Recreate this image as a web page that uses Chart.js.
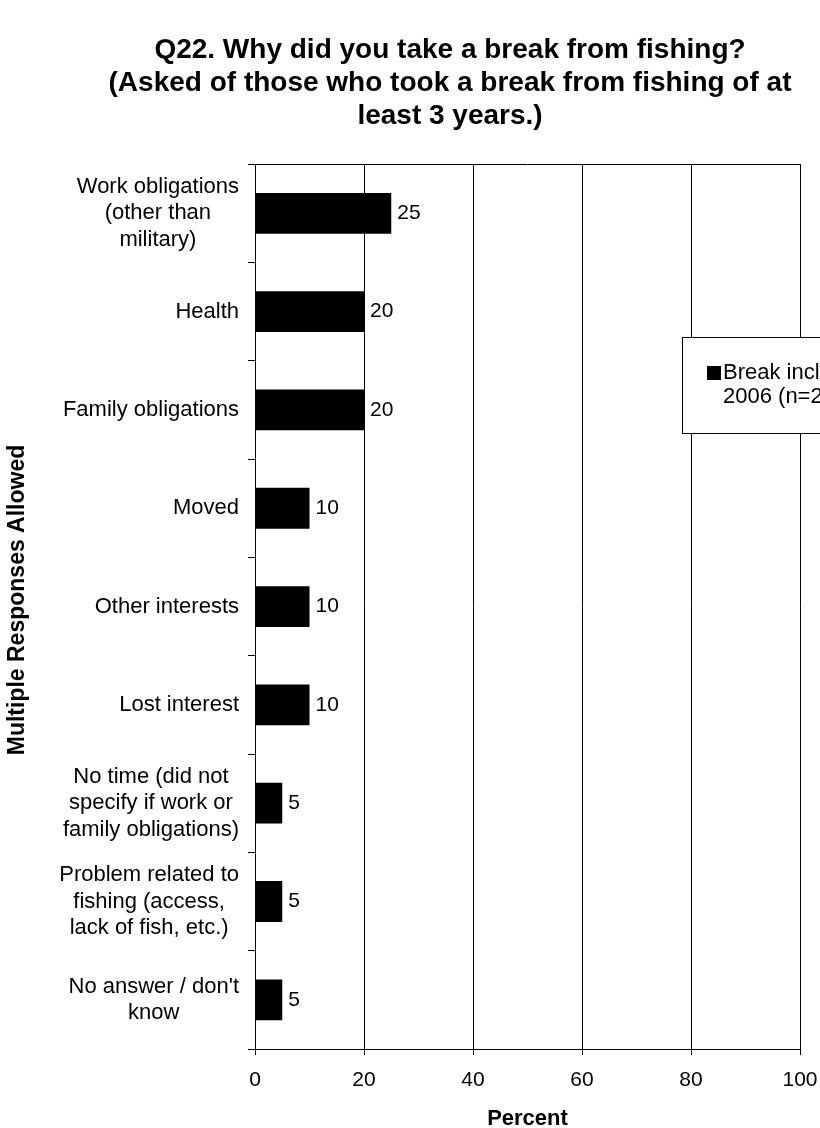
<!DOCTYPE html>
<html>
<head>
<meta charset="utf-8">
<script src="https://cdn.jsdelivr.net/npm/chart.js@4.4.1/dist/chart.umd.min.js"></script>
<style>
  html, body { margin: 0; padding: 0; background: #fff; }
</style>
</head>
<body>
<canvas id="myChart" width="820" height="1128"></canvas>
<script>
var categories = [
    ['Work obligations', '(other than', 'military)'],
    ['Health'],
    ['Family obligations'],
    ['Moved'],
    ['Other interests'],
    ['Lost interest'],
    ['No time (did not', 'specify if work or', 'family obligations)'],
    ['Problem related to', 'fishing (access,', 'lack of fish, etc.)'],
    ['No answer / don\'t', 'know']
];
var percents = [25, 20, 20, 10, 10, 10, 5, 5, 5];
var percentTicks = [0, 20, 40, 60, 80, 100];
var seriesName = ['Break including', '2006 (n=20)'];

var FONT = 'Arial, "Liberation Sans", sans-serif';
Chart.defaults.font.family = FONT;
Chart.defaults.color = '#000';

// category labels: lines centred within each block, block right-aligned to the axis
var yLabels = {
    id: 'yLabels',
    afterDraw: function(chart) {
        var ctx = chart.ctx, y = chart.scales.y;
        ctx.save();
        ctx.font = '22px ' + FONT;
        ctx.fillStyle = '#000';
        ctx.textAlign = 'center';
        ctx.textBaseline = 'middle';
        chart.data.labels.forEach(function(lines, i) {
            var w = Math.max.apply(null, lines.map(function(l) { return ctx.measureText(l).width; }));
            var cx = y.right - 16 - w / 2;
            var cy = y.getPixelForTick(i);
            lines.forEach(function(l, j) {
                ctx.fillText(l, cx, cy + (j - (lines.length - 1) / 2) * 26.5);
            });
        });
        // axis title
        ctx.font = 'bold 23px ' + FONT;
        ctx.translate(18, 600);
        ctx.rotate(-Math.PI / 2);
        ctx.fillText('Multiple Responses Allowed', 0, 0);
        ctx.restore();
    }
};

var valueLabels = {
    id: 'valueLabels',
    afterDatasetsDraw: function(chart) {
        var ctx = chart.ctx, area = chart.chartArea;
        ctx.save();
        // frame top
        ctx.strokeStyle = '#000';
        ctx.lineWidth = 1;
        ctx.beginPath();
        ctx.moveTo(area.left, Math.round(area.top) + 0.5);
        ctx.lineTo(area.right, Math.round(area.top) + 0.5);
        ctx.stroke();
        ctx.font = '21px ' + FONT;
        ctx.fillStyle = '#000';
        ctx.textAlign = 'left';
        ctx.textBaseline = 'middle';
        chart.getDatasetMeta(0).data.forEach(function(bar, i) {
            ctx.fillText(String(chart.data.datasets[0].data[i]), bar.x + 6, bar.y);
        });
        ctx.restore();
    }
};

var boxLegend = {
    id: 'boxLegend',
    afterDraw: function(chart) {
        var ctx = chart.ctx;
        var x = 682, y = 337, h = 96;
        ctx.save();
        ctx.fillStyle = '#fff';
        ctx.fillRect(x, y, 200, h);
        ctx.strokeStyle = '#000';
        ctx.lineWidth = 1;
        ctx.strokeRect(x + 0.5, y + 0.5, 200, h);
        ctx.fillStyle = chart.data.datasets[0].backgroundColor;
        ctx.fillRect(707, 366, 14, 14);
        ctx.fillStyle = '#000';
        ctx.font = '22px ' + FONT;
        ctx.textAlign = 'left';
        ctx.textBaseline = 'middle';
        chart.data.datasets[0].label.forEach(function(l, j) {
            ctx.fillText(l, 723, 373 + j * 24);
        });
        ctx.restore();
    }
};

var ctx = document.getElementById('myChart').getContext('2d');
var myChart = new Chart(ctx, {
    type: 'bar',
    data: {
        labels: categories,
        datasets: [{
            label: seriesName,
            data: percents,
            backgroundColor: '#000',
            barPercentage: 0.415,
            categoryPercentage: 1.0
        }]
    },
    options: {
        indexAxis: 'y',
        responsive: false,
        animation: false,
        layout: {
            padding: { left: 100, right: 20, top: 0, bottom: 0 }
        },
        plugins: {
            legend: { display: false },
            tooltip: { enabled: false },
            title: {
                display: true,
                text: [
                    'Q22. Why did you take a break from fishing?',
                    '(Asked of those who took a break from fishing of at',
                    'least 3 years.)'
                ],
                color: '#000',
                font: { size: 28, weight: 'bold', lineHeight: 1.18 },
                padding: { top: 33.5, bottom: 31.5 }
            }
        },
        scales: {
            x: {
                min: 0,
                max: 100,
                afterBuildTicks: function(scale) {
                    scale.ticks = percentTicks.map(function(v) { return { value: v }; });
                },
                afterFit: function(scale) {
                    scale.height = 79;
                    scale.paddingLeft = 0;
                    scale.paddingRight = 0;
                },
                ticks: { font: { size: 21 }, padding: 13, color: '#000' },
                grid: { color: '#000', lineWidth: 1, tickLength: 6 },
                border: { display: true, color: '#000', width: 1 },
                title: {
                    display: true,
                    text: 'Percent',
                    font: { size: 22, weight: 'bold', lineHeight: 1 },
                    padding: { top: 0, bottom: -2 }
                }
            },
            y: {
                afterFit: function(scale) {
                    scale.width = 155;
                    scale.paddingTop = 0;
                    scale.paddingBottom = 0;
                },
                ticks: { display: false },
                grid: { drawOnChartArea: false, drawTicks: true, tickLength: 7, color: '#000', offset: true },
                border: { display: true, color: '#000', width: 1 }
            }
        }
    },
    plugins: [yLabels, valueLabels, boxLegend]
});
</script>
</body>
</html>
